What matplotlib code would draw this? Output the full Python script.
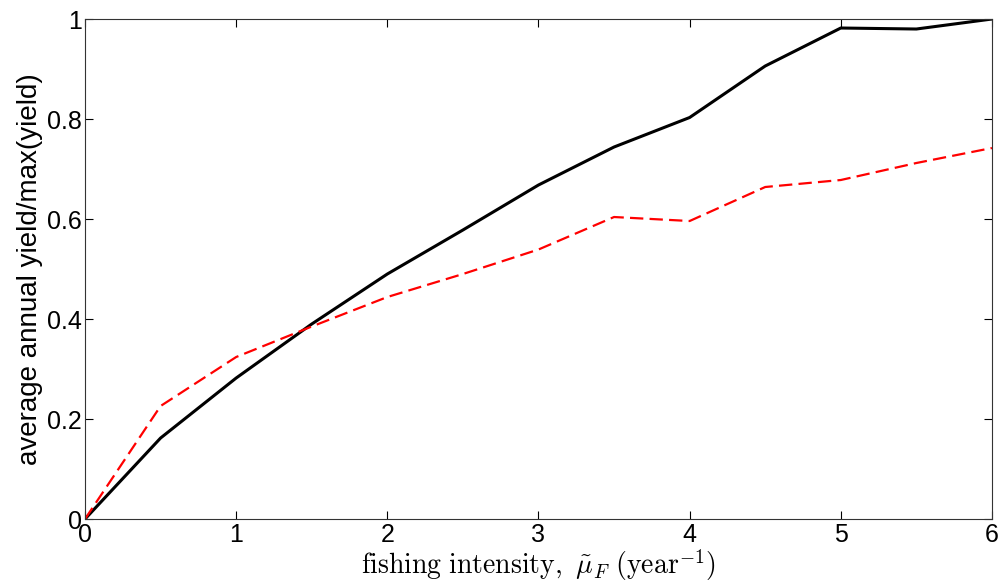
import matplotlib
matplotlib.use("Agg")
import matplotlib.pyplot as plt

intensity = [0, 0.5, 1, 1.5, 2, 2.5, 3, 3.5, 4, 4.5, 5, 5.5, 6]
yield_black = [0, 0.162, 0.282, 0.39, 0.49, 0.578, 0.668, 0.744, 0.803, 0.906, 0.982, 0.98, 1.0]
yield_red = [0, 0.226, 0.324, 0.385, 0.444, 0.49, 0.539, 0.604, 0.596, 0.664, 0.678, 0.712, 0.742]
xticks = [0, 1, 2, 3, 4, 5, 6]
yticks = [0, 0.2, 0.4, 0.6, 0.8, 1]
ytick_labels = ["0", "0.2", "0.4", "0.6", "0.8", "1"]

plt.rcParams['font.family'] = ['Liberation Sans', 'DejaVu Sans']
plt.rcParams['mathtext.fontset'] = 'cm'

fig = plt.figure(figsize=(10.05, 5.85), dpi=100)
ax = fig.add_axes([0.0846, 0.1128, 0.9024, 0.8547])

ax.plot(intensity, yield_black, color='black', lw=2.2, solid_joinstyle='round')
ax.plot(intensity, yield_red, color='red', lw=1.6, ls=(0, (6, 2.8)))

ax.set_xlim(0, 6)
ax.set_ylim(0, 1)
ax.set_xticks(xticks)
ax.set_xticklabels([str(t) for t in xticks])
ax.set_yticks(yticks)
ax.set_yticklabels(ytick_labels)
ax.tick_params(direction='in', length=6, width=0.8, top=True, right=True,
               labelsize=18, colors='black')
ax.tick_params(axis='x', pad=3)
ax.tick_params(axis='y', pad=2)
for s in ax.spines.values():
    s.set_linewidth(0.8)
    s.set_color('#333333')

ax.set_xlabel(r'$\mathrm{fishing\ intensity,}\ \tilde{\mu}_F\ (\mathrm{year}^{-1})$',
              fontsize=20, labelpad=0)
ax.set_ylabel('average annual yield/max(yield)', fontsize=20, labelpad=3)

fig.savefig('out.png', dpi=100)
